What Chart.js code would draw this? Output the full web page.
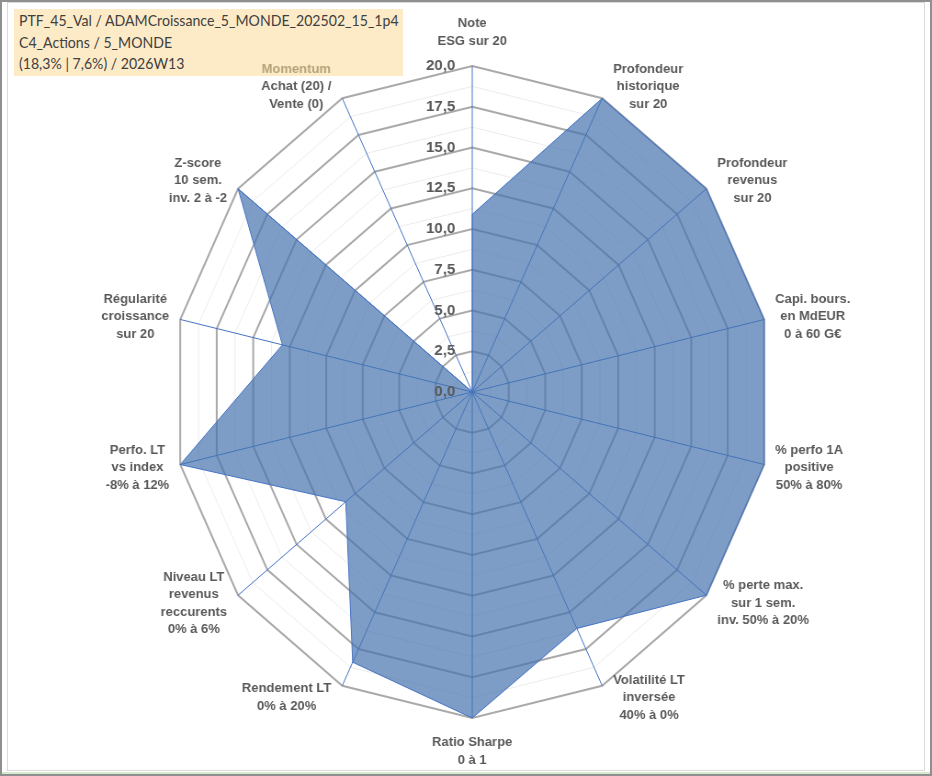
<!DOCTYPE html>
<html lang="fr">
<head>
<meta charset="utf-8">
<title>Radar PTF_45_Val</title>
<script src="https://cdn.jsdelivr.net/npm/chart.js@4.4.1/dist/chart.umd.min.js"></script>
<style>
  html, body { margin: 0; padding: 0; background: #fff; }
  body { width: 932px; height: 776px; position: relative; overflow: hidden; }
  #outer { position: absolute; left: 0; top: 0; width: 932px; height: 776px; box-sizing: border-box; border: 2px solid #8f8f8f; }
  #inner { position: absolute; left: 7px; top: 2px; width: 918px; height: 769px; box-sizing: border-box; border: 1px solid #d9d9d9; }
  #green { position: absolute; left: 2px; top: 772px; width: 928px; height: 2px; background: #d6e9cd; }
  #title {
    position: absolute; left: 14px; top: 9px; width: 389px; height: 67px; box-sizing: border-box;
    background: #fdebc8; color: #404040; padding: 1px 0 0 5px;
    font: 15px Lato, "Open Sans", sans-serif; line-height: 21.5px; white-space: nowrap;
  }
  #title span { display: inline-block; transform: scaleX(0.94); transform-origin: 0 0; }
  /* the reference plot is squeezed horizontally, so the canvas is too */
  #wrap { position: absolute; left: 0; top: 0; width: 1028px; height: 776px; transform: scaleX(0.9187); transform-origin: 0 0; }
</style>
</head>
<body>
<div id="outer"></div>
<div id="inner"></div>
<div id="green"></div>
<div id="title"><span>PTF_45_Val / ADAMCroissance_5_MONDE_202502_15_1p4<br>C4_Actions / 5_MONDE<br>(18,3% | 7,6%) / 2026W13</span></div>
<div id="wrap"><canvas id="radar"></canvas></div>
<script>
// axes of the radar, clockwise from the top
const categories = [
  ['Note', 'ESG sur 20'],
  ['Profondeur', 'historique', 'sur 20'],
  ['Profondeur', 'revenus', 'sur 20'],
  ['Capi. bours.', 'en MdEUR', '0 à 60 G€'],
  ['% perfo 1A', 'positive', '50% à 80%'],
  ['% perte max.', 'sur 1 sem.', 'inv. 50% à 20%'],
  ['Volatilité LT', 'inversée', '40% à 0%'],
  ['Ratio Sharpe', '0 à 1'],
  ['Rendement LT', '0% à 20%'],
  ['Niveau LT', 'revenus', 'reccurents', '0% à 6%'],
  ['Perfo. LT', 'vs index', '-8% à 12%'],
  ['Régularité', 'croissance', 'sur 20'],
  ['Z-score', '10 sem.', 'inv. 2 à -2'],
  ['Momentum', 'Achat (20) /', 'Vente (0)']
];
const scores = [10.9, 20, 20, 20, 20, 20, 16.1, 20, 18.4, 10.8, 20, 13, 20, 0];

const tickValues = [0, 2.5, 5, 7.5, 10, 12.5, 15, 17.5, 20];
const tickLabels = ['0,0', '2,5', '5,0', '7,5', '10,0', '12,5', '15,0', '17,5', '20,0'];

const SQUEEZE = 0.9187;
const LINE_H = 17.5;
const accentLine = 'Momentum';

// Excel-like labels: text drawn unsqueezed, blocks centred beside each spoke
const excelLabels = {
  id: 'excelLabels',
  afterDraw(chart) {
    const sc = chart.scales.r;
    const ctx = chart.ctx;
    ctx.save();
    ctx.textBaseline = 'middle';

    ctx.font = 'bold 15px "Liberation Sans", Arial, sans-serif';
    ctx.fillStyle = '#595959';
    ctx.textAlign = 'right';
    tickValues.forEach((v, i) => {
      const y = sc.yCenter - sc.getDistanceFromCenterForValue(v);
      ctx.save();
      ctx.translate(sc.xCenter - 17 / SQUEEZE, y);
      ctx.scale(1 / SQUEEZE, 1);
      ctx.fillText(tickLabels[i], 0, 0);
      ctx.restore();
    });

    ctx.font = 'bold 13px "Liberation Sans", Arial, sans-serif';
    ctx.textAlign = 'center';
    const n = categories.length;
    categories.forEach((lines, i) => {
      const p = sc.getPointPosition(i, sc.drawingArea);
      const a = 2 * Math.PI * i / n;
      const sin = Math.sin(a), cos = Math.cos(a);
      const w = Math.max(...lines.map(t => ctx.measureText(t).width));
      const h = lines.length * LINE_H;
      let cx, cy;
      if (Math.abs(sin) < 0.01) {
        cx = p.x;
        cy = cos > 0 ? p.y - 16 - h / 2 : p.y + 16 + h / 2;
      } else {
        cx = p.x + Math.sign(sin) * (11 + w / 2) / SQUEEZE;
        cy = p.y - 13 * cos;
      }
      lines.forEach((t, j) => {
        ctx.save();
        ctx.translate(cx, cy - h / 2 + LINE_H * (j + 0.5));
        ctx.scale(1 / SQUEEZE, 1);
        ctx.fillStyle = t === accentLine ? '#b3a478' : '#595959';
        ctx.fillText(t, 0, 0);
        ctx.restore();
      });
    });
    ctx.restore();
  }
};

new Chart(document.getElementById('radar'), {
  type: 'radar',
  data: {
    labels: categories,
    datasets: [{
      data: scores,
      fill: true,
      backgroundColor: 'rgba(70,115,175,0.7)',
      borderColor: '#4472c4',
      borderWidth: 1,
      pointRadius: 0,
      pointHoverRadius: 0
    }]
  },
  options: {
    responsive: true,
    maintainAspectRatio: false,
    animation: false,
    layout: { padding: { left: 180, right: 180, top: 66, bottom: 58 } },
    plugins: { legend: { display: false }, tooltip: { enabled: false } },
    scales: {
      r: {
        min: 0,
        max: 20,
        ticks: { stepSize: 1.25, display: false },
        grid: {
          color: c => c.index % 2 === 0 ? '#a9a9a9' : '#ececec',
          lineWidth: c => c.index % 2 === 0 ? 2 : 1
        },
        angleLines: { color: '#4472c4', lineWidth: 1 },
        pointLabels: { display: false }
      }
    }
  },
  plugins: [excelLabels]
});
</script>
</body>
</html>
